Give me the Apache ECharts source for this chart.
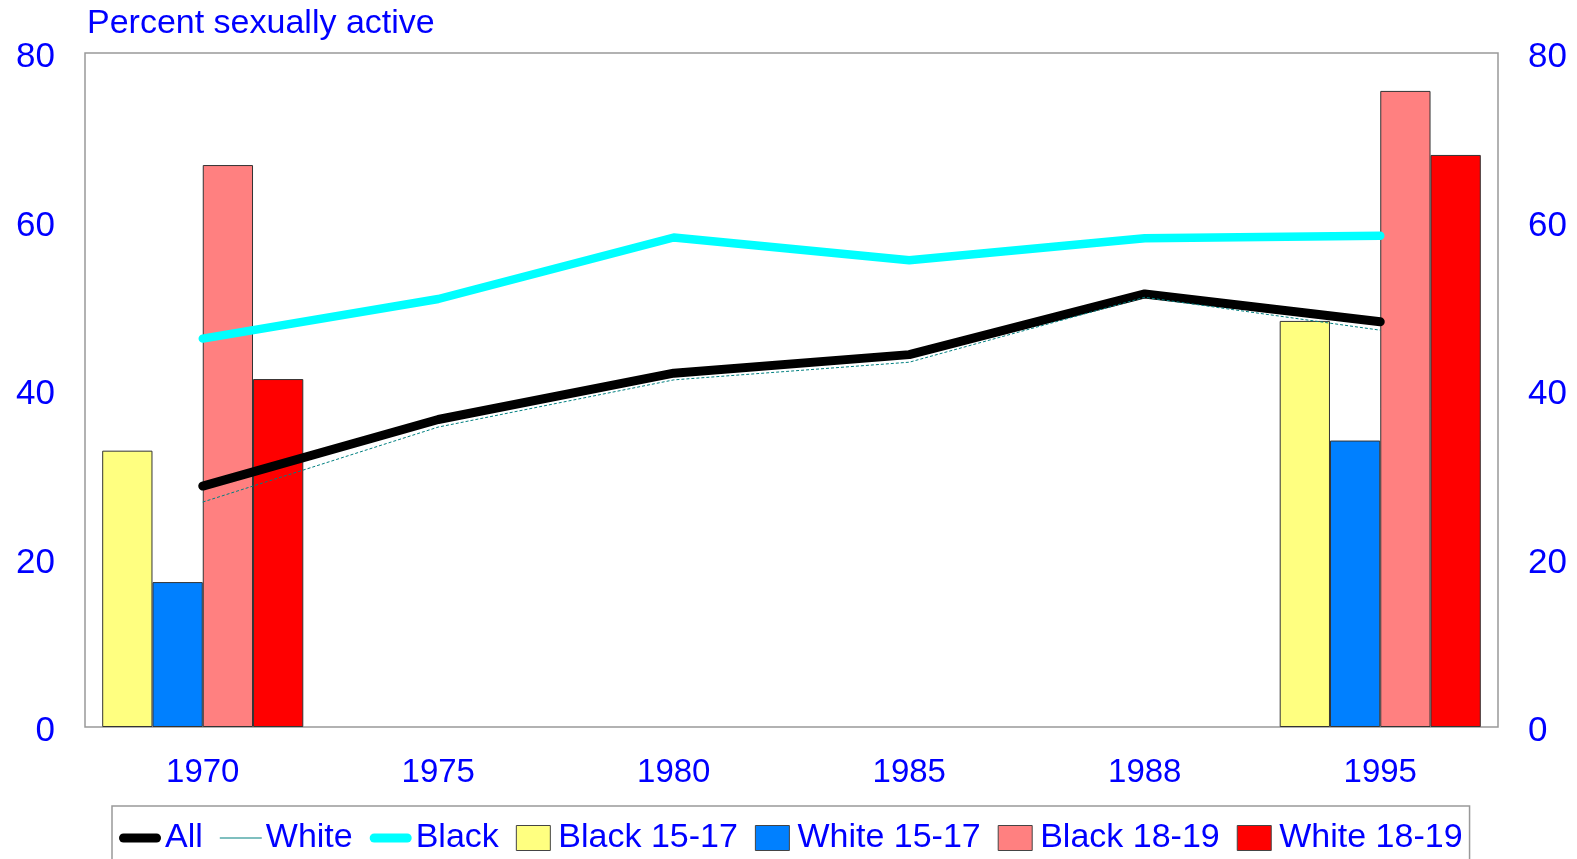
<!DOCTYPE html>
<html>
<head>
<meta charset="utf-8">
<script src="https://cdn.jsdelivr.net/npm/echarts@6/dist/echarts.min.js"></script>
<style>html,body{margin:0;padding:0;background:#fff}#c{width:1577px;height:859px}</style>
</head>
<body>
<div id="c"></div>
<script>
const years = ['1970', '1975', '1980', '1985', '1988', '1995'];
const allLine = [28.6, 36.5, 42.0, 44.2, 51.4, 48.1];
const whiteLine = [26.7, 35.6, 41.2, 43.3, 51.0, 47.1];
const blackLine = [46.1, 50.8, 58.1, 55.4, 58.0, 58.3];
const black1517 = [32.8, null, null, null, null, 48.2];
const white1517 = [17.2, null, null, null, null, 34.0];
const black1819 = [66.7, null, null, null, null, 75.5];
const white1819 = [41.3, null, null, null, null, 67.9];
const yTicks = [0, 20, 40, 60, 80];

const FONT = "'Liberation Sans', Arial, sans-serif";
const BLUE = '#0000FF';
const chart = echarts.init(document.getElementById('c'), null, {renderer: 'canvas'});

const yAxisBase = {
  type: 'value', min: 0, max: 80, interval: 20,
  axisLine: {show: false}, axisTick: {show: false}, splitLine: {show: false},
  axisLabel: {color: BLUE, fontSize: 35, fontFamily: FONT, margin: 30, verticalAlign: 'top', lineHeight: 9,
    formatter: v => yTicks.includes(v) ? String(v) : ''}
};

const barBase = {type: 'bar', barGap: '0%', barCategoryGap: '14.6%', z: 2,
  itemStyle: {borderColor: '#333', borderWidth: 1}};

const sqIcon = 'path://M0,0H34V25H0Z';
chart.setOption({
  animation: false,
  backgroundColor: '#fff',
  title: {text: 'Percent sexually active', left: 82, top: 2,
    textStyle: {color: BLUE, fontSize: 34, fontWeight: 'normal', fontFamily: FONT}},
  grid: {left: 85, right: 79, top: 53, bottom: 132, show: true, borderColor: '#999', borderWidth: 1.5, backgroundColor: 'transparent'},
  xAxis: {type: 'category', data: years,
    axisLine: {show: false}, axisTick: {show: false},
    axisLabel: {color: BLUE, fontSize: 33, fontFamily: FONT, margin: 29}},
  yAxis: [Object.assign({position: 'left'}, yAxisBase), Object.assign({position: 'right'}, yAxisBase)],
  legend: {left: 112, top: 806, padding: [15, 7, 10, 7], itemGap: 17, itemWidth: 42, itemHeight: 25,
    borderColor: '#999', borderWidth: 1.5,
    textStyle: {color: BLUE, fontSize: 34, fontFamily: FONT, padding: [0, 0, 0, -1]},
    data: [
      {name: 'All', icon: 'path://M4.5,0H37.5A4.5,4.5,0,0,1,37.5,9H4.5A4.5,4.5,0,0,1,4.5,0Z', itemStyle: {color: '#000', borderWidth: 0}},
      {name: 'White', icon: 'path://M0,0H36V1H0Z', itemStyle: {color: '#008080', borderWidth: 0}},
      {name: 'Black', icon: 'path://M4.5,0H37.5A4.5,4.5,0,0,1,37.5,9H4.5A4.5,4.5,0,0,1,4.5,0Z', itemStyle: {color: '#00FFFF', borderWidth: 0}},
      {name: 'Black 15-17', icon: sqIcon, itemStyle: {color: '#FFFF80', borderColor: '#444', borderWidth: 1}},
      {name: 'White 15-17', icon: sqIcon, itemStyle: {color: '#0080FF', borderColor: '#444', borderWidth: 1}},
      {name: 'Black 18-19', icon: sqIcon, itemStyle: {color: '#FF8080', borderColor: '#444', borderWidth: 1}},
      {name: 'White 18-19', icon: sqIcon, itemStyle: {color: '#FF0000', borderColor: '#444', borderWidth: 1}}
    ]},
  series: [
    Object.assign({}, barBase, {name: 'Black 15-17', data: black1517, itemStyle: Object.assign({}, barBase.itemStyle, {color: '#FFFF80'})}),
    Object.assign({}, barBase, {name: 'White 15-17', data: white1517, itemStyle: Object.assign({}, barBase.itemStyle, {color: '#0080FF'})}),
    Object.assign({}, barBase, {name: 'Black 18-19', data: black1819, itemStyle: Object.assign({}, barBase.itemStyle, {color: '#FF8080'})}),
    Object.assign({}, barBase, {name: 'White 18-19', data: white1819, itemStyle: Object.assign({}, barBase.itemStyle, {color: '#FF0000'})}),
    {name: 'Black', type: 'line', data: blackLine, symbol: 'none', z: 4, color: '#00FFFF',
      lineStyle: {color: '#00FFFF', width: 8.5, cap: 'round', join: 'round'}},
    {name: 'All', type: 'line', data: allLine, symbol: 'none', z: 5, color: '#000',
      lineStyle: {color: '#000', width: 9, cap: 'round', join: 'round'}},
    {name: 'White', type: 'line', data: whiteLine, symbol: 'none', z: 6, color: '#008080',
      lineStyle: {color: '#008080', width: 1, type: [3, 2]}}
  ]
});
</script>
</body>
</html>
